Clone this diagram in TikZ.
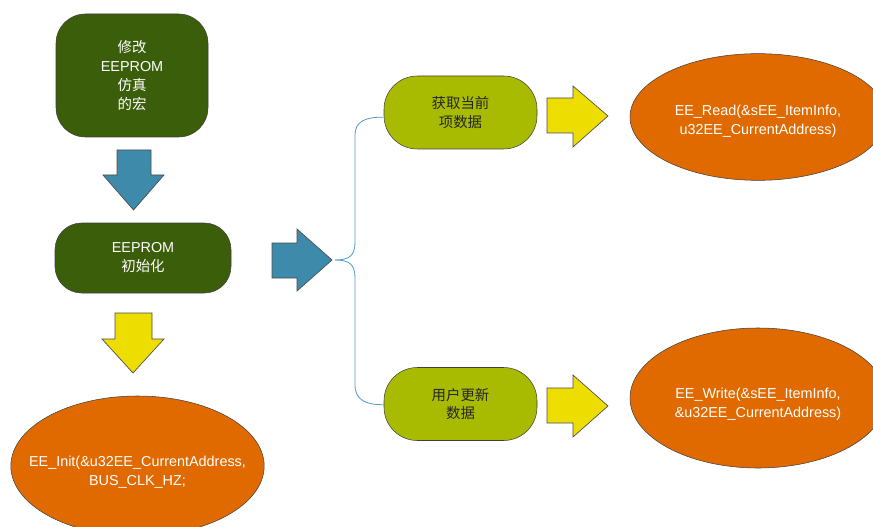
\documentclass[tikz,border=0pt]{standalone}
\usepackage{fontspec}
\setmainfont{Liberation Sans}
\newfontfamily\cjk{Noto Sans CJK SC}
\definecolor{macgreen}{HTML}{3B5E0A}
\definecolor{limegreen}{HTML}{A8BB00}
\definecolor{arrowblue}{HTML}{3E8AAA}
\definecolor{bracelight}{HTML}{4A9CC0}
\definecolor{flowyellow}{HTML}{EEDD00}
\definecolor{callorange}{HTML}{E06A00}
\tikzset{
  darkbox/.style={draw=black!75,fill=macgreen,text=white,align=center,inner sep=0pt},
  limebox/.style={draw=black!75,fill=limegreen,text=black!85,align=center,inner sep=0pt,
    minimum width=114.75pt,minimum height=54.75pt,rounded corners=25pt},
  callnode/.style={ellipse,draw=black!75,fill=callorange,inner sep=0pt},
  calltext/.style={text=white,align=center,inner sep=0pt},
  blockarrow/.style={draw=black!70,line width=0.5pt,line join=miter},
}
\usetikzlibrary{shapes.geometric}
\begin{document}
\begin{tikzpicture}[x=0.75pt,y=-0.75pt,font=\fontsize{10.8}{14.2}\selectfont]
\useasboundingbox (0,0) rectangle (873,527);
% left column
\node[darkbox,minimum width=114pt,minimum height=92.25pt,rounded corners=22pt] (macro) at (132,75.5)
  {{\cjk 修改}\\EEPROM\\{\cjk 仿真}\\{\cjk 的宏}};
\node[darkbox,minimum width=132pt,minimum height=52.5pt,rounded corners=20pt] (init) at (143,258)
  {EEPROM\\{\cjk 初始化}};
\node[callnode,minimum width=190pt,minimum height=105pt,
  label={[calltext,yshift=-5pt]center:{EE\_Init(\&u32EE\_CurrentAddress,\\BUS\_CLK\_HZ;}}] (eeinit) at (137.5,466) {};
\draw[blockarrow,fill=arrowblue] (117,150) -- (151,150) -- (151,175) -- (164,175)
  -- (133.5,210) -- (103,175) -- (117,175) -- cycle;
\draw[blockarrow,fill=flowyellow] (115,313) -- (152,313) -- (152,339) -- (164,339)
  -- (133,373) -- (102,339) -- (115,339) -- cycle;
% split to the right
\draw[blockarrow,fill=arrowblue] (272,243) -- (297,243) -- (297,229) -- (332,260)
  -- (297,291) -- (297,278) -- (272,278) -- cycle;
\coordinate (split) at (335,260);
\node[limebox] (getitem) at (460.5,112.5) {{\cjk 获取当前}\\{\cjk 项数据}};
\node[limebox] (update) at (460.5,404) {{\cjk 用户更新}\\{\cjk 数据}};
\draw[bracelight,line width=0.6pt] (split) .. controls (350,260) and (355,255) .. (355,242)
  -- (355,135) .. controls (355,121) and (366,117) .. ([yshift=-3.5pt]getitem.west);
\draw[bracelight,line width=0.6pt] (split) .. controls (350,260) and (355,265) .. (355,278)
  -- (355,385) .. controls (355,400) and (366,405) .. ([yshift=-0.5pt]update.west);
% calls
\draw[blockarrow,fill=flowyellow] (547,98) -- (573,98) -- (573,86) -- (608,116)
  -- (573,147) -- (573,133) -- (547,133) -- cycle;
\draw[blockarrow,fill=flowyellow] (547,388) -- (573,388) -- (573,375) -- (608,406)
  -- (573,437) -- (573,423) -- (547,423) -- cycle;
\node[callnode,minimum width=192pt,minimum height=95pt,
  label={[calltext,yshift=-3pt]center:{EE\_Read(\&sEE\_ItemInfo,\\u32EE\_CurrentAddress)}}] (eeread) at (758,117) {};
\node[callnode,minimum width=192pt,minimum height=105pt,
  label={[calltext,yshift=-5pt]center:{EE\_Write(\&sEE\_ItemInfo,\\\&u32EE\_CurrentAddress)}}] (eewrite) at (758,398) {};
\end{tikzpicture}
\end{document}
